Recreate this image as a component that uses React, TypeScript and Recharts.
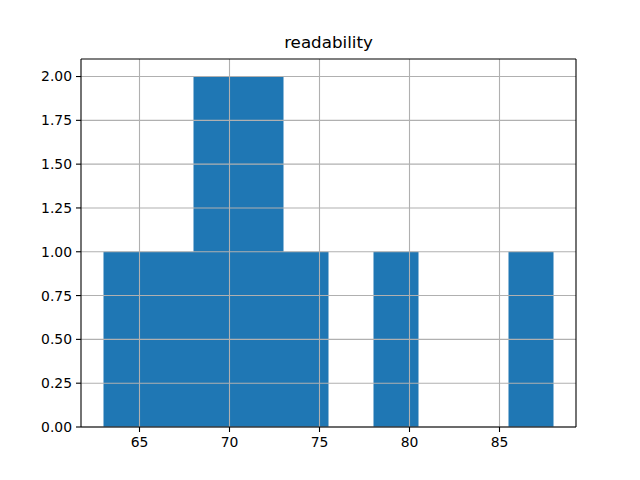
import { ComposedChart, Area, XAxis, YAxis, ReferenceLine } from "recharts";

const binEdges = [63, 65.5, 68, 70.5, 73, 75.5, 78, 80.5, 83, 85.5, 88];
const counts = [1, 1, 2, 2, 1, 0, 1, 0, 0, 1];
const xTicks = [65, 70, 75, 80, 85];
const yTicks = [0, 0.25, 0.5, 0.75, 1.0, 1.25, 1.5, 1.75, 2.0];

const xDomain = [61.75, 89.25];
const yDomain = [0, 2.1];

// step area needs one point per edge; last edge closes the final bin
const rows = binEdges.map((edge, i) => ({
  edge,
  count: i < counts.length ? counts[i] : 0,
}));

const font = "DejaVu Sans, sans-serif";
const tickStyle = { fontSize: 13.9, fill: "#000", fontFamily: font };
const gridColor = "#b0b0b0";

export default function App() {
  return (
    <div style={{ position: "absolute", top: 0, left: 0, width: 640, height: 480, background: "#fff" }}>
      <div
        style={{
          position: "absolute",
          top: 32,
          left: 81,
          width: 495,
          textAlign: "center",
          fontFamily: font,
          fontSize: 16.7,
          color: "#000",
        }}
      >
        readability
      </div>
      <ComposedChart
        width={640}
        height={480}
        data={rows}
        margin={{ top: 59, right: 64, left: 0, bottom: 0 }}
      >
        <XAxis
          dataKey="edge"
          type="number"
          domain={xDomain}
          ticks={xTicks}
          height={53}
          allowDataOverflow
          tick={tickStyle}
          tickSize={5}
          tickMargin={5}
          axisLine={{ stroke: "#000", strokeWidth: 1.1 }}
          tickLine={{ stroke: "#000", strokeWidth: 1.1 }}
        />
        <YAxis
          type="number"
          domain={yDomain}
          ticks={yTicks}
          width={81}
          allowDataOverflow
          tick={tickStyle}
          tickFormatter={(v: number) => v.toFixed(2)}
          tickSize={5}
          tickMargin={4}
          axisLine={{ stroke: "#000", strokeWidth: 1.1 }}
          tickLine={{ stroke: "#000", strokeWidth: 1.1 }}
        />
        <Area
          type="stepAfter"
          dataKey="count"
          fill="#1f77b4"
          fillOpacity={1}
          stroke="none"
          isAnimationActive={false}
          dot={false}
          activeDot={false}
        />
        {xTicks.map((t) => (
          <ReferenceLine key={"x" + t} x={t} stroke={gridColor} strokeWidth={1.1} />
        ))}
        {yTicks.map((t) => (
          <ReferenceLine key={"y" + t} y={t} stroke={gridColor} strokeWidth={1.1} />
        ))}
        <ReferenceLine y={yDomain[1]} stroke="#000" strokeWidth={1.1} />
        <ReferenceLine x={xDomain[1]} stroke="#000" strokeWidth={1.1} />
      </ComposedChart>
    </div>
  );
}
